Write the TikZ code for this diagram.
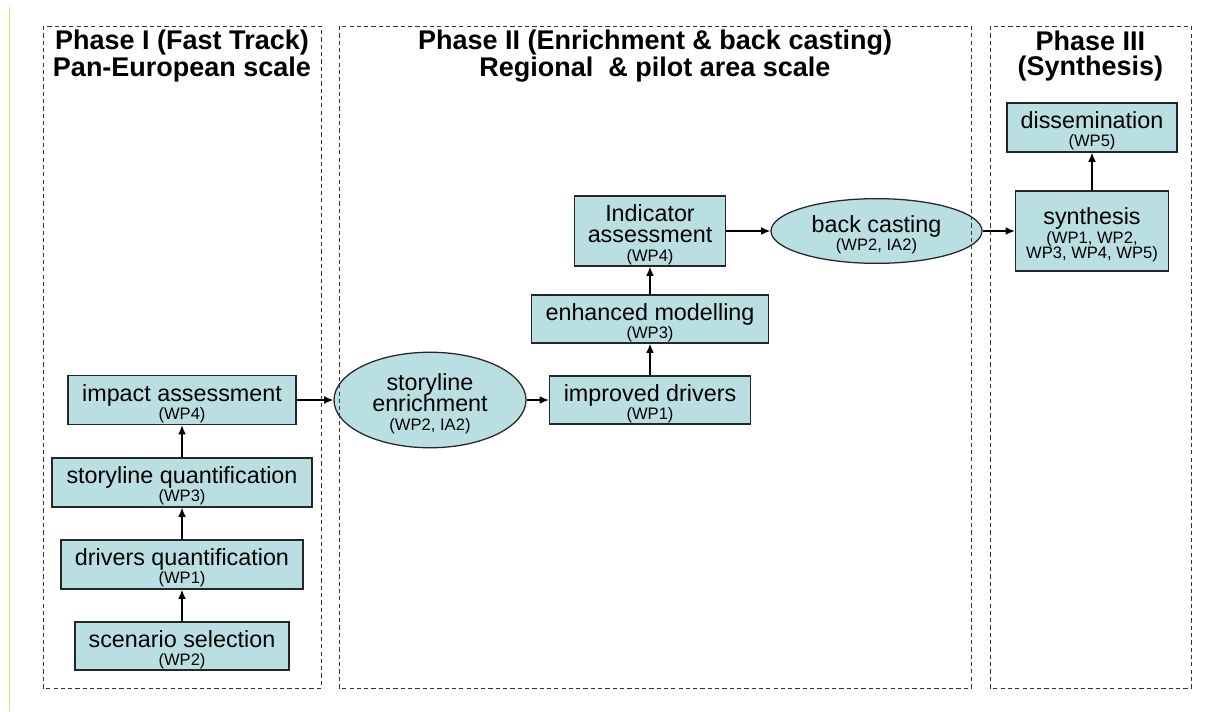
\documentclass[tikz,border=0pt]{standalone}
\usepackage{fontspec}
\setmainfont{Liberation Sans}
\usetikzlibrary{shapes.geometric,arrows.meta}
\definecolor{boxfill}{RGB}{185,223,227}
\definecolor{marginline}{RGB}{214,226,110}
\newcommand{\wpnote}[1]{{\fontsize{11.8}{12}\selectfont #1}}
\newcommand{\topstrut}{\rule{0pt}{17pt}}
\tikzset{
  task/.style={draw=black!85, line width=0.9pt, fill=boxfill, inner sep=0pt, align=center,
    font=\fontsize{16.6}{15.5}\selectfont},
  taskbox/.style={task, rectangle},
  taskoval/.style={task, ellipse},
  phase/.style={draw=black!80, line width=0.7pt, dash pattern=on 3pt off 2.2pt},
  flow/.style={line width=1pt, -{Latex[length=6.5pt,width=5.5pt]}},
  title/.style={font=\fontsize{19.2}{17.4}\selectfont\bfseries, align=center}
}
\begin{document}
\begin{tikzpicture}
    \useasboundingbox (0,0) rectangle (30.55,-17.775);
    %% Phase I
    \node[taskbox, minimum width=5.35cm, minimum height=1.2cm] (scen) at (4.55,-16.15)
        {\topstrut scenario selection\\[-2.4pt]\wpnote{(WP2)}};
    \node[taskbox, minimum width=6.05cm, minimum height=1.225cm] (dquant) at (4.55,-14.1125)
        {\topstrut drivers quantification\\[-2.4pt]\wpnote{(WP1)}};
    \node[taskbox, minimum width=6.5cm, minimum height=1.225cm] (squant) at (4.55,-12.0625)
        {\topstrut storyline quantification\\[-2.4pt]\wpnote{(WP3)}};
    \node[taskbox, minimum width=5.7cm, minimum height=1.225cm] (impact) at (4.55,-10.0)
        {\topstrut impact assessment\\[-2.4pt]\wpnote{(WP4)}};
    \draw[flow] (scen) -- (dquant);
    \draw[flow] (dquant) -- (squant);
    \draw[flow] (squant) -- (impact);
    %% Phase II
    \node[taskoval, minimum width=4.8cm, minimum height=2.35cm] (enrich) at (10.75,-10.0)
        {\topstrut storyline\\enrichment\\[-2.4pt]\wpnote{(WP2, IA2)}};
    \node[taskbox, minimum width=5.025cm, minimum height=1.2cm] (improved) at (16.25,-10.0)
        {\topstrut improved drivers\\[-2.4pt]\wpnote{(WP1)}};
    \node[taskbox, minimum width=5.925cm, minimum height=1.2cm] (enhanced) at (16.25,-7.975)
        {\topstrut enhanced modelling\\[-2.4pt]\wpnote{(WP3)}};
    \node[taskbox, minimum width=3.775cm, minimum height=1.75cm] (indicator) at (16.25,-5.775)
        {\topstrut Indicator\\assessment\\[-2.4pt]\wpnote{(WP4)}};
    \node[taskoval, minimum width=5.275cm, minimum height=1.6cm] (backcast) at (21.9125,-5.775)
        {\topstrut back casting\\[-2.4pt]\wpnote{(WP2, IA2)}};
    \draw[flow] (impact) -- (enrich);
    \draw[flow] (enrich) -- (improved);
    \draw[flow] (improved) -- (enhanced);
    \draw[flow] (enhanced) -- (indicator);
    \draw[flow] (indicator) -- (backcast);
    %% Phase III
    \node[taskbox, minimum width=3.825cm, minimum height=2.0cm] (synth) at (27.3,-5.775)
        {\topstrut synthesis\\[-1.6pt]\wpnote{(WP1, WP2,}\\[-5pt]\wpnote{WP3, WP4, WP5)}};
    \node[taskbox, minimum width=4.25cm, minimum height=1.225cm] (dissem) at (27.3,-3.1875)
        {\topstrut dissemination\\[-2.4pt]\wpnote{(WP5)}};
    \draw[flow] (backcast) -- (synth);
    \draw[flow] (synth) -- (dissem);
    %% Phase frames and titles
    \draw[phase] (1.075,-0.65) rectangle (8.025,-17.2);
    \draw[phase] (8.475,-0.65) rectangle (24.275,-17.2);
    \draw[phase] (24.75,-0.65) rectangle (29.775,-17.2);
    \node[title] (titleI) at (4.55,-1.4) {Phase I (Fast Track)\\Pan-European scale};
    \node[title] (titleII) at (16.375,-1.4) {Phase II (Enrichment \& back casting)\\Regional\ \ \& pilot area scale};
    \node[title] (titleIII) at (27.26,-1.4) {Phase III\\(Synthesis)};
    %% margin rule
    \draw[marginline, line width=0.6pt] (0.24,-0.175) -- (0.24,-17.775);
\end{tikzpicture}
\end{document}
